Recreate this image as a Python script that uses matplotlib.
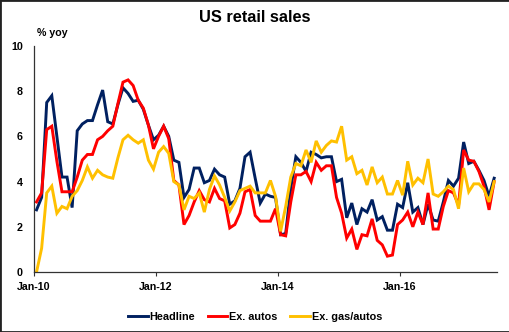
import numpy as np
import pandas as pd
import matplotlib
matplotlib.use("Agg")
import matplotlib.pyplot as plt
from matplotlib.patches import Rectangle

plt.rcParams['font.family'] = ['Liberation Sans', 'DejaVu Sans']
plt.rcParams['font.weight'] = 'bold'

# Monthly data, Jan-2010 .. Jul-2017 (% yoy)
months = pd.date_range('2010-01-01', '2017-07-01', freq='MS')

headline = [2.75, 3.3, 7.5, 7.8, 6.0, 4.2, 4.2, 2.85, 6.25, 6.55, 6.7, 6.7,
            7.4, 8.05, 6.65, 6.55, 7.4, 8.15, 7.9, 7.55, 7.6, 7.2, 6.5, 5.85,
            6.05, 6.45, 6.0, 4.95, 4.85, 3.3, 3.65, 4.6, 4.6, 3.95, 4.05, 4.55,
            4.3, 4.2, 3.0, 3.15, 3.7, 5.1, 5.3, 4.15, 3.05, 3.45, 3.35, 3.3,
            1.65, 1.7, 3.7, 5.1, 4.85, 4.45, 5.3, 5.2, 5.05, 5.1, 5.1, 4.0,
            4.1, 2.4, 3.05, 2.1, 2.8, 2.65, 3.2, 2.3, 2.45, 1.85, 1.85, 3.0,
            2.85, 3.95, 2.65, 2.85, 2.1, 3.0, 2.3, 2.25, 3.1, 4.05, 3.8, 4.15,
            5.75, 4.8, 4.9, 4.5, 4.05, 3.35, 4.15]

ex_autos = [3.1, 3.5, 6.3, 6.45, 4.9, 3.55, 3.55, 3.55, 4.2, 4.95, 5.2, 5.2,
            5.85, 6.0, 6.25, 6.45, 7.45, 8.4, 8.5, 8.25, 7.6, 7.25, 6.5, 5.45,
            6.0, 6.45, 5.9, 4.05, 3.85, 2.1, 2.5, 3.1, 3.6, 3.2, 3.1, 3.7,
            3.25, 3.15, 1.95, 2.1, 2.6, 3.55, 3.65, 2.5, 2.25, 2.25, 2.25, 2.8,
            1.65, 1.6, 3.1, 4.3, 4.3, 4.45, 4.0, 4.85, 4.5, 4.7, 4.7, 3.3,
            2.6, 1.5, 1.9, 1.0, 1.65, 1.6, 2.35, 1.4, 1.2, 0.7, 0.75, 2.1,
            2.3, 2.65, 2.0, 2.65, 2.1, 3.5, 1.9, 1.9, 2.9, 3.6, 3.5, 2.95,
            5.4, 4.95, 4.9, 4.45, 3.8, 2.75, 4.0]

ex_gas_autos = [0.0, 1.05, 3.5, 3.8, 2.6, 2.9, 2.8, 3.35, 3.6, 4.05, 4.65, 4.15,
                4.5, 4.3, 4.2, 4.15, 5.05, 5.85, 6.05, 5.85, 5.7, 5.85, 4.95, 4.55,
                5.3, 5.55, 5.25, 4.0, 3.85, 2.75, 3.35, 3.25, 3.5, 2.65, 3.65, 4.25,
                3.85, 3.3, 2.7, 3.1, 3.6, 3.7, 3.8, 3.5, 3.5, 3.5, 4.05, 3.35,
                1.8, 2.9, 4.2, 4.8, 4.7, 5.4, 4.85, 5.8, 5.3, 5.6, 5.8, 5.75,
                6.45, 4.95, 5.1, 4.35, 4.5, 3.85, 4.65, 3.95, 4.2, 3.45, 3.45, 4.05,
                3.4, 4.9, 3.85, 4.15, 3.95, 5.0, 3.45, 3.35, 3.55, 3.8, 3.65, 2.8,
                4.6, 3.55, 3.9, 3.9, 3.65, 3.1, 4.0]

series_names = ['Headline', 'Ex. autos', 'Ex. gas/autos']
series_colors = ['#002060', '#FF0000', '#FFC000']
y_ticks = [0, 2, 4, 6, 8, 10]

fig = plt.figure(figsize=(5.1, 3.32), dpi=100)
ax = fig.add_axes([34 / 510, 1 - 272 / 332, (496.7 - 34) / 510, (272 - 46) / 332])

x = np.arange(len(months))
for vals, name, col in zip([headline, ex_autos, ex_gas_autos], series_names, series_colors):
    ax.plot(x, vals, color=col, lw=2.1, label=name, solid_joinstyle='miter')

# category-style axis: ticks sit on category boundaries, every 24 months
tick_idx = [i for i, d in enumerate(months) if d.month == 1 and d.year % 2 == 0]
ax.set_xticks([i - 0.5 for i in tick_idx])
ax.set_xticklabels([months[i].strftime('%b-%y') for i in tick_idx], fontsize=7.7, fontweight='bold')
ax.set_xlim(-0.5, 90.5)
ax.set_ylim(0, 10)
ax.set_yticks(y_ticks)
ax.set_yticklabels([str(v) for v in y_ticks], fontsize=7.7, fontweight='bold')
ax.tick_params(axis='x', length=3, width=0.8, pad=4, color='#333333')
ax.tick_params(axis='y', length=0, pad=8)

for s in ['top', 'right']:
    ax.spines[s].set_visible(False)
for s in ['left', 'bottom']:
    ax.spines[s].set_color('#333333')
    ax.spines[s].set_linewidth(0.9)

fig.text(0.5, 1 - 17 / 332, 'US retail sales', ha='center', va='center',
         fontsize=11.8, fontweight='bold')
fig.text(36.7 / 510, 1 - 33.5 / 332, '% yoy', ha='left', va='center',
         fontsize=7.7, fontweight='bold')

fig.legend(loc='center', bbox_to_anchor=(0.5, 1 - 317 / 332), ncol=3, frameon=False,
           prop={'size': 7.8, 'weight': 'bold'}, handlelength=1.8, handletextpad=0.15,
           columnspacing=1.2)

fig.patches.append(Rectangle((0, 0), 1, 1, transform=fig.transFigure, fill=False,
                             edgecolor='#222222', lw=2))

fig.savefig('out.png', dpi=100)
